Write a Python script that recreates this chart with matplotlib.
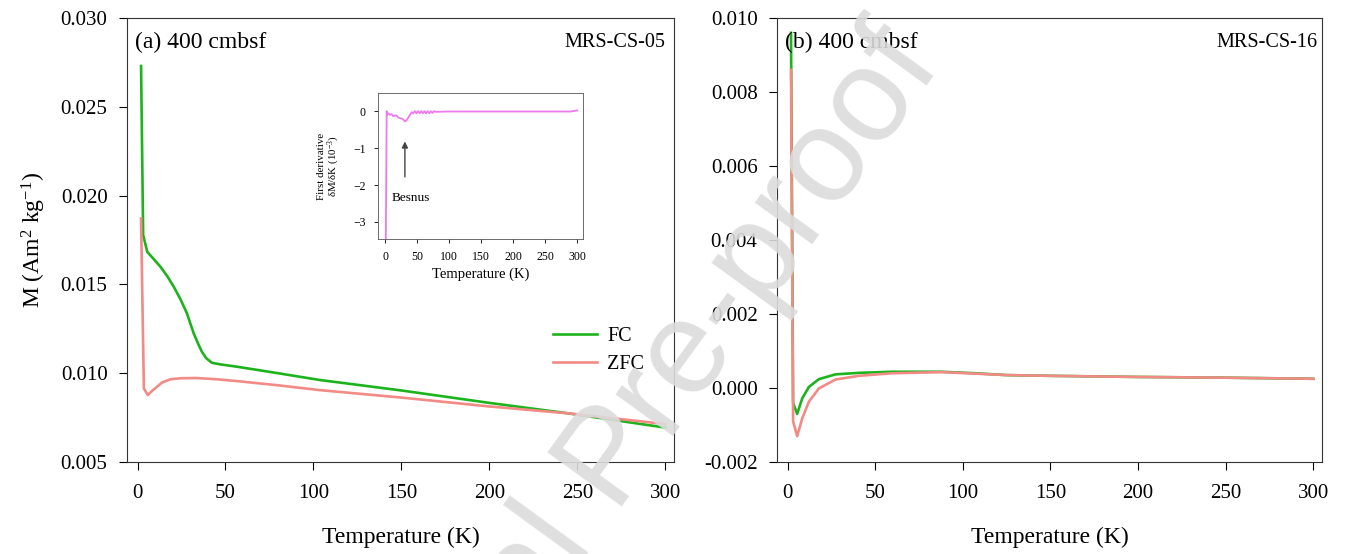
import numpy as np
import matplotlib
matplotlib.use('Agg')
import matplotlib.pyplot as plt

plt.rcParams['font.family'] = ['Liberation Serif', 'DejaVu Serif']
plt.rcParams['mathtext.fontset'] = 'custom'
plt.rcParams['mathtext.rm'] = 'Liberation Serif'
plt.rcParams['mathtext.it'] = 'Liberation Serif:italic'

# (a) MRS-CS-05
t_fc_a = [2, 3.2, 5.5, 9, 13, 17, 20.6, 24.5, 28.1, 31.9, 34.5, 36.6, 39, 42.3, 47, 56.4,
          80, 103.6, 150, 200, 245, 300]
m_fc_a = [0.0273, 0.01778, 0.01684, 0.01645, 0.0160, 0.01545, 0.01487, 0.01415, 0.01337,
          0.01225, 0.01165, 0.01121, 0.01085, 0.01059, 0.01050, 0.01037,
          0.01000, 0.00962, 0.00903, 0.00833, 0.00774, 0.00694]
t_zfc_a = [2, 3.6, 5.8, 8, 11.1, 14, 18.7, 25, 33.8, 45, 56.4, 80, 103.6, 150, 200, 245, 300]
m_zfc_a = [0.01872, 0.00915, 0.00877, 0.00898, 0.00924, 0.00948, 0.00966, 0.00972, 0.00973,
           0.00966, 0.00956, 0.00932, 0.00905, 0.00863, 0.00813, 0.00774, 0.00714]

# inset: first derivative (10^-3)
t_der = [1.0, 2.6, 3.5, 5.2, 7.8, 10, 13, 15.5, 18.2, 20.5, 23.4, 26, 28.6, 31.3, 33.5, 36.5,
         39, 41.7, 44, 46.5, 49, 51.5, 54, 56.5, 59, 61.5, 64, 66.5, 69, 71.5, 74, 76.5, 79,
         100, 150, 200, 250, 290, 300]
d_der = [-4.0, 0.0, -0.10, -0.06, -0.10, -0.08, -0.14, -0.12, -0.12, -0.17, -0.19, -0.20, -0.23,
         -0.28, -0.25, -0.17, -0.10, -0.03, -0.06, 0.0, -0.06, 0.0, -0.06, 0.0, -0.06, 0.0,
         -0.06, 0.0, -0.06, 0.0, -0.05, 0.0, -0.02, -0.01, -0.01, -0.01, -0.01, -0.01, 0.02]

# (b) MRS-CS-16
t_fc_b = [2, 3.2, 5.5, 8.4, 12.2, 17.9, 27.4, 40.7, 59.7, 88, 107, 125, 150, 200, 250, 300]
m_fc_b = [0.0096, -0.0004, -0.00070, -0.00028, 0.00003, 0.00024, 0.00037, 0.00041, 0.00044,
          0.00044, 0.00040, 0.00035, 0.00033, 0.00030, 0.00028, 0.00025]
t_zfc_b = [2, 3.2, 5.5, 8.4, 12.2, 17.9, 27.4, 40.7, 59.7, 88, 107, 125, 150, 200, 250, 300]
m_zfc_b = [0.0086, -0.0009, -0.00130, -0.00082, -0.00037, -0.00001, 0.00023, 0.00033, 0.00040,
           0.00043, 0.00039, 0.00035, 0.00033, 0.00030, 0.00028, 0.00025]

fc_color = '#1db31d'
zfc_color = '#f28a86'

fig = plt.figure(figsize=(13.48, 5.54), dpi=100)
ax1 = fig.add_axes([0.0942, 0.166, 0.4058, 0.8014])
ax2 = fig.add_axes([0.5764, 0.166, 0.4043, 0.8014])

for ax in (ax1, ax2):
    ax.tick_params(direction='out', length=6, width=0.8, labelsize=15, pad=8,
                   top=False, right=False)
    ax.tick_params(axis='x', pad=10)
    ax.set_xlim(-6, 305)
    ax.set_xticks([0, 50, 100, 150, 200, 250, 300])
    ax.set_xlabel('Temperature (K)', fontsize=17, labelpad=17)
    for s in ax.spines.values():
        s.set_linewidth(0.8)
        s.set_color('#333333')

ax1.plot(t_fc_a, m_fc_a, color=fc_color, lw=1.9, label='FC')
ax1.plot(t_zfc_a, m_zfc_a, color=zfc_color, lw=1.9, label='ZFC')
ax1.set_ylim(0.005, 0.030)
ax1.set_yticks([0.005, 0.010, 0.015, 0.020, 0.025, 0.030])
ax1.set_yticklabels(['0.005', '0.010', '0.015', '0.020', '0.025', '0.030'])
ax1.set_ylabel('M (Am$^2$ kg$^{-1}$)', fontsize=17, labelpad=9)
ax1.text(0.015, 0.946, '(a) 400 cmbsf', transform=ax1.transAxes, fontsize=17, va='center')
ax1.text(0.985, 0.946, 'MRS-CS-05', transform=ax1.transAxes, fontsize=14.5, va='center', ha='right')
ax1.legend(loc='upper left', bbox_to_anchor=(0.745, 0.345), frameon=False, fontsize=14.5,
           handlelength=2.2, handletextpad=0.5, labelspacing=0.45)

ax2.plot(t_fc_b, m_fc_b, color=fc_color, lw=1.9)
ax2.plot(t_zfc_b, m_zfc_b, color=zfc_color, lw=1.9)
ax2.set_ylim(-0.002, 0.010)
ax2.set_yticks([-0.002, 0.0, 0.002, 0.004, 0.006, 0.008, 0.010])
ax2.set_yticklabels(['-0.002', '0.000', '0.002', '0.004', '0.006', '0.008', '0.010'])
ax2.text(0.015, 0.946, '(b) 400 cmbsf', transform=ax2.transAxes, fontsize=17, va='center')
ax2.text(0.991, 0.946, 'MRS-CS-16', transform=ax2.transAxes, fontsize=14.5, va='center', ha='right')

# inset
axi = fig.add_axes([0.2804, 0.5686, 0.1521, 0.2635])
axi.plot(t_der, d_der, color='#ee7aee', lw=1.3)
axi.set_xlim(-11, 309)
axi.set_ylim(-3.46, 0.49)
axi.set_xticks([0, 50, 100, 150, 200, 250, 300])
axi.set_yticks([-3, -2, -1, 0])
axi.tick_params(direction='out', length=3, width=0.6, labelsize=8.5, pad=6,
                top=False, right=False)
for s in axi.spines.values():
    s.set_linewidth(0.6)
    s.set_color('#555555')
axi.set_xlabel('Temperature (K)', fontsize=10.5, labelpad=3)
axi.set_ylabel('First derivative\n\u03b4M/\u03b4K (10$^{-3}$)', fontsize=7.8, labelpad=8,
               linespacing=1.0)
axi.annotate('', xy=(31, -0.82), xytext=(31, -1.78),
             arrowprops=dict(arrowstyle='-|>', color='#444444', lw=1.0,
                             mutation_scale=9, shrinkA=0, shrinkB=0))
axi.text(10, -2.36, 'Besnus', fontsize=9.5, va='center')

# watermark
fig.text(612 / 1348, 1 - 462 / 554, 'Journal Pre-proof', fontsize=96, color='#dcdcdc',
         alpha=0.9, family='Liberation Sans', rotation=54, ha='center', va='center',
         rotation_mode='anchor', zorder=10)

fig.savefig('out.png', dpi=100)
